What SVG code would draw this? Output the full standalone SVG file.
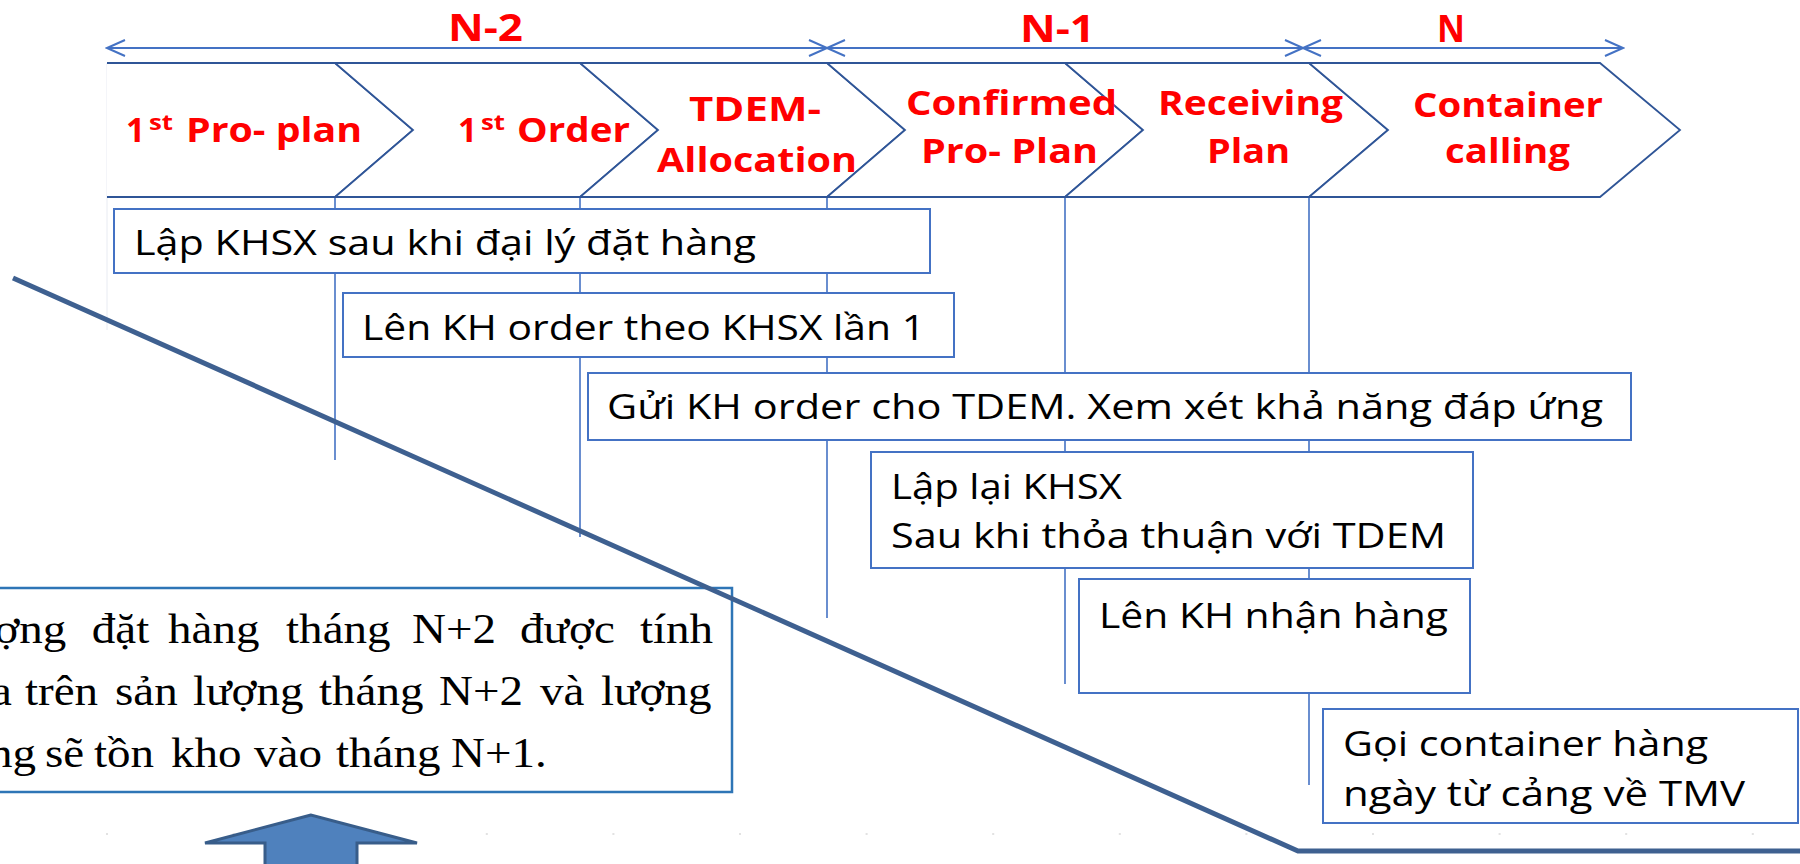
<svg xmlns="http://www.w3.org/2000/svg" width="1800" height="864" viewBox="0 0 1800 864">
<defs>
<style>
.chev{fill:#fff;stroke:#2F5597;stroke-width:1.8;stroke-linejoin:miter}
.lbl{font-family:"Open Sans","Noto Sans",sans-serif;font-weight:700;font-size:34px;fill:#FF0000}
.sup{font-family:"Open Sans","Noto Sans",sans-serif;font-weight:700;font-size:21px;fill:#FF0000}
.mon{font-family:"Open Sans","Noto Sans",sans-serif;font-weight:700;font-size:37px;fill:#FF0000}
.box{fill:#fff;stroke:#4472C4;stroke-width:2}
.txt{font-family:"Open Sans","Noto Sans",sans-serif;font-size:35px;fill:#000}
.conn{stroke:#4472C4;stroke-width:1.6;fill:none}
.tl{stroke:#4472C4;stroke-width:2;fill:none}
.serif{font-family:"Liberation Serif","Times New Roman",serif;font-size:42px;fill:#000}
</style>
<marker id="oa" viewBox="-20 -10 22 20" markerWidth="22" markerHeight="20" refX="0" refY="0" markerUnits="userSpaceOnUse" orient="auto-start-reverse">
<path d="M-18,-8 L0,0 L-18,8" fill="none" stroke="#4472C4" stroke-width="2"/>
</marker>
</defs>
<rect width="1800" height="864" fill="#fff"/>

<!-- faint artifacts -->
<line x1="107" y1="63" x2="107" y2="330" stroke="#e8ebf2" stroke-width="1"/>
<line x1="106" y1="834" x2="1800" y2="834" stroke="#e2e2e2" stroke-width="2" stroke-dasharray="2 124.6"/>

<!-- timeline -->
<g id="timeline">
<path class="tl" d="M107,48 H827" marker-start="url(#oa)" marker-end="url(#oa)"/>
<path class="tl" d="M827,48 H1303" marker-start="url(#oa)" marker-end="url(#oa)"/>
<path class="tl" d="M1303,48 H1623" marker-start="url(#oa)" marker-end="url(#oa)"/>
<text class="mon" x="448" y="41" textLength="75" lengthAdjust="spacingAndGlyphs">N-2</text>
<text class="mon" x="1020" y="42" textLength="75" lengthAdjust="spacingAndGlyphs">N-1</text>
<text class="mon" x="1437" y="42" textLength="28" lengthAdjust="spacingAndGlyphs">N</text>
</g>

<!-- connectors -->
<g id="connectors">
<line class="conn" x1="335" y1="197" x2="335" y2="460"/>
<line class="conn" x1="580" y1="197" x2="580" y2="537"/>
<line class="conn" x1="827" y1="197" x2="827" y2="618"/>
<line class="conn" x1="1065" y1="197" x2="1065" y2="684"/>
<line class="conn" x1="1309" y1="197" x2="1309" y2="785"/>
</g>

<!-- chevrons -->
<g id="chev1">
<path class="chev" d="M107,63 H335 L413,130 L335,197 H107"/>
<text class="lbl" x="126" y="142" textLength="19" lengthAdjust="spacingAndGlyphs">1</text>
<text class="sup" x="149" y="130" textLength="24" lengthAdjust="spacingAndGlyphs">st</text>
<text class="lbl" x="186" y="142" textLength="176" lengthAdjust="spacingAndGlyphs">Pro- plan</text>
</g>
<g id="chev2">
<path class="chev" d="M335,63 H580 L658,130 L580,197 H335 L413,130 Z"/>
<text class="lbl" x="458" y="142" textLength="19" lengthAdjust="spacingAndGlyphs">1</text>
<text class="sup" x="481" y="130" textLength="24" lengthAdjust="spacingAndGlyphs">st</text>
<text class="lbl" x="517" y="142" textLength="113" lengthAdjust="spacingAndGlyphs">Order</text>
</g>
<g id="chev3">
<path class="chev" d="M580,63 H827 L905,130 L827,197 H580 L658,130 Z"/>
<text class="lbl" x="689" y="121" textLength="132" lengthAdjust="spacingAndGlyphs">TDEM-</text>
<text class="lbl" x="657" y="172" textLength="200" lengthAdjust="spacingAndGlyphs">Allocation</text>
</g>
<g id="chev4">
<path class="chev" d="M827,63 H1065 L1143,130 L1065,197 H827 L905,130 Z"/>
</g>
<g id="chev5">
<path class="chev" d="M1065,63 H1309 L1388,130 L1309,197 H1065 L1143,130 Z"/>
</g>
<g id="chev6">
<path class="chev" d="M1309,63 H1600 L1680,130 L1600,197 H1309 L1388,130 Z"/>
</g>
<g id="chev-labels">
<text class="lbl" x="906" y="115" textLength="211" lengthAdjust="spacingAndGlyphs">Confirmed</text>
<text class="lbl" x="921" y="163" textLength="177" lengthAdjust="spacingAndGlyphs">Pro- Plan</text>
<text class="lbl" x="1158" y="115" textLength="185" lengthAdjust="spacingAndGlyphs">Receiving</text>
<text class="lbl" x="1207" y="163" textLength="83" lengthAdjust="spacingAndGlyphs">Plan</text>
<text class="lbl" x="1413" y="117" textLength="190" lengthAdjust="spacingAndGlyphs">Container</text>
<text class="lbl" x="1445" y="163" textLength="125" lengthAdjust="spacingAndGlyphs">calling</text>
</g>

<!-- task boxes -->
<g id="task1">
<rect class="box" x="114" y="209" width="816" height="64"/>
<text class="txt" x="134" y="255" textLength="622" lengthAdjust="spacingAndGlyphs">Lập KHSX sau khi đại lý đặt hàng</text>
</g>
<g id="task2">
<rect class="box" x="343" y="293" width="611" height="64"/>
<text class="txt" x="362" y="340" textLength="563" lengthAdjust="spacingAndGlyphs">Lên KH order theo KHSX lần 1</text>
</g>
<g id="task3">
<rect class="box" x="588" y="373" width="1043" height="67"/>
<text class="txt" x="607" y="419" textLength="996" lengthAdjust="spacingAndGlyphs">Gửi KH order cho TDEM. Xem xét khả năng đáp ứng</text>
</g>
<g id="task4">
<rect class="box" x="871" y="452" width="602" height="116"/>
<text class="txt" x="891" y="499" textLength="231" lengthAdjust="spacingAndGlyphs">Lập lại KHSX</text>
<text class="txt" x="891" y="548" textLength="555" lengthAdjust="spacingAndGlyphs">Sau khi thỏa thuận với TDEM</text>
</g>
<g id="task5">
<rect class="box" x="1079" y="579" width="391" height="114"/>
<text class="txt" x="1099" y="628" textLength="349" lengthAdjust="spacingAndGlyphs">Lên KH nhận hàng</text>
</g>
<g id="task6">
<rect class="box" x="1323" y="709" width="475" height="114"/>
<text class="txt" x="1343" y="756" textLength="365" lengthAdjust="spacingAndGlyphs">Gọi container hàng</text>
<text class="txt" x="1343" y="806" textLength="402" lengthAdjust="spacingAndGlyphs">ngày từ cảng về TMV</text>
</g>

<!-- note box -->
<g id="note">
<rect x="-10" y="588" width="742" height="204" fill="#fff" stroke="#2E75B6" stroke-width="2.5"/>
<g transform="scale(1.12,1)">
<text class="serif" y="643"><tspan x="-5">ợng</tspan><tspan x="82">đặt</tspan><tspan x="150">hàng</tspan><tspan x="255.4">tháng</tspan><tspan x="367.9">N+2</tspan><tspan x="464.3">được</tspan><tspan x="571.4">tính</tspan></text>
<text class="serif" y="705"><tspan x="-8">a</tspan><tspan x="22.3">trên</tspan><tspan x="102.7">sản</tspan><tspan x="172.3">lượng</tspan><tspan x="284.8">tháng</tspan><tspan x="392">N+2</tspan><tspan x="482.1">và</tspan><tspan x="536.6">lượng</tspan></text>
<text class="serif" y="767"><tspan x="-9.8">ng</tspan><tspan x="40.2">sẽ</tspan><tspan x="83.9">tồn</tspan><tspan x="152.7">kho</tspan><tspan x="226.8">vào</tspan><tspan x="300">tháng</tspan><tspan x="402.7">N+1.</tspan></text>
</g>
</g>

<!-- diagonal thick line -->
<g id="divider">
<path d="M13,278 L1298,851 H1800" fill="none" stroke="#3E6090" stroke-width="5"/>
</g>

<!-- up arrow -->
<g id="up-arrow">
<path d="M311,815 L205,843 H265 V866 H357 V843 H417 Z" fill="#4F81BD" stroke="#385D8A" stroke-width="3" stroke-linejoin="miter"/>
</g>
</svg>
